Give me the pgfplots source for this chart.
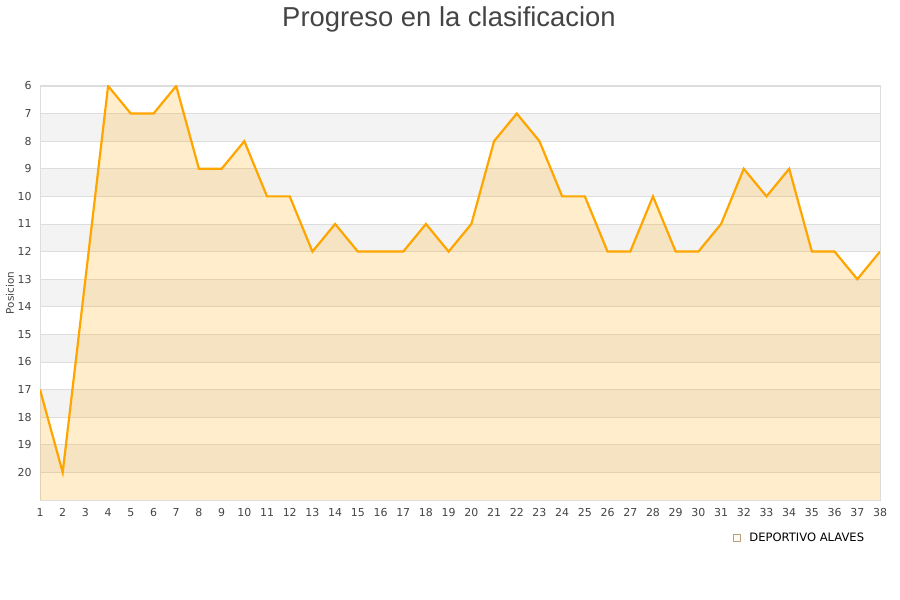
\documentclass[border=0pt]{standalone}
\usepackage{fontspec}
\setmainfont{DejaVu Sans}
\newfontfamily\titlefont{Liberation Sans}
\usepackage{pgfplots}
\pgfplotsset{compat=1.18}
\usepackage{pgfplotstable}

\definecolor{lineorange}{HTML}{FFA500}
\definecolor{bandgray}{HTML}{F3F3F3}
\definecolor{gridgray}{HTML}{DDDDDD}
\definecolor{txtgray}{HTML}{444444}
\definecolor{legfill}{HTML}{FDEBC8}
\definecolor{legdraw}{HTML}{B8A27E}

% jornada vs posicion
\pgfplotstableread{
jornada pos
1 17
2 20
3 13
4 6
5 7
6 7
7 6
8 9
9 9
10 8
11 10
12 10
13 12
14 11
15 12
16 12
17 12
18 11
19 12
20 11
21 8
22 7
23 8
24 10
25 10
26 12
27 12
28 10
29 12
30 12
31 11
32 9
33 10
34 9
35 12
36 12
37 13
38 12
}\posdata

\begin{document}
\begin{tikzpicture}
\begin{axis}[
    set layers,
    at={(0,0)}, anchor=south west,
    scale only axis, width=840bp, height=414bp,
    xmin=1, xmax=38, ymin=6, ymax=21,
    y dir=reverse,
    xtick={1,...,38}, ytick={6,...,20},
    major tick length=0pt,
    ymajorgrids,
    grid style={gridgray, line width=0.8bp},
    axis line style={gridgray, line width=1bp},
    /pgf/number format/assume math mode=true,
    tick label style={font=\fontsize{11}{13}\selectfont, text=txtgray},
    xticklabel style={yshift=-4.5bp},
    yticklabel style={xshift=-5bp},
    title={\titlefont\fontsize{27.5}{32}\selectfont Progreso en la clasificacion},
    title style={at={(axis description cs:0.4869,1.147)}, anchor=center, text=txtgray},
    ylabel={Posicion},
    ylabel style={at={(axis description cs:-0.0357,0.5)}, anchor=center,
        font=\fontsize{10.5}{12}\selectfont, text=txtgray},
    legend style={at={(axis description cs:0.825,-0.0918)}, anchor=west,
        draw=none, fill=none, inner sep=0pt, outer sep=0pt,
        font=\fontsize{11.6}{13}\selectfont, text=black},
    legend image code/.code={
        \draw[fill=legfill, draw=legdraw, line width=0.8bp] (0bp,-3.5bp) rectangle (7bp,3.5bp);
        \path (14bp,0bp);
    },
]
\begin{pgfonlayer}{axis background}
\pgfplotsinvokeforeach{7,9,11,13,15,17,19}{
    \fill[bandgray] (axis cs:1,#1) rectangle (axis cs:38,#1+1);
}
\end{pgfonlayer}

\addplot[fill=lineorange, fill opacity=0.2, draw=none]
    table[x=jornada, y=pos] {\posdata} |- (axis cs:1,21) -- cycle;
\addlegendentry{DEPORTIVO ALAVES}

\addplot[lineorange, line width=2.2bp, forget plot]
    table[x=jornada, y=pos] {\posdata};
\end{axis}
\pgfresetboundingbox
\path[use as bounding box] (-40bp,-100bp) rectangle (860bp,500bp);
\end{tikzpicture}
\end{document}
